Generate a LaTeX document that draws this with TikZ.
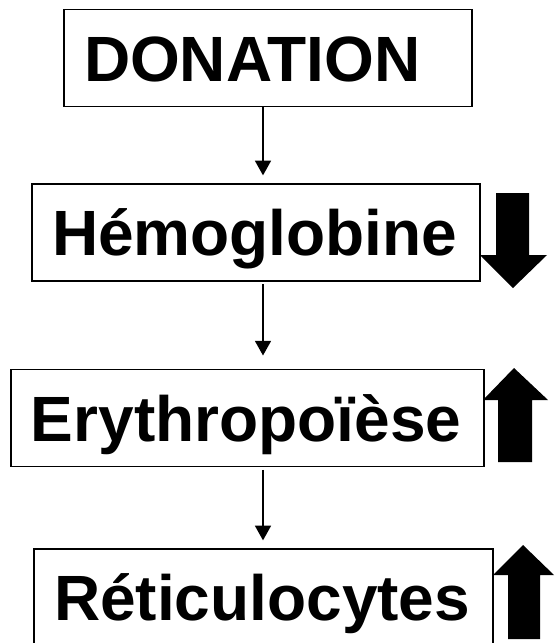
\documentclass[tikz,border=0pt]{standalone}
\usepackage{fontspec}
\setmainfont{Liberation Sans}
\usetikzlibrary{arrows.meta,positioning}

\begin{document}
\begin{tikzpicture}[x=0.75pt, y=-0.75pt, >={Triangle[width=12pt,length=11pt]}]
    \tikzset{
        box/.style={draw, line width=1pt, rectangle, align=left, inner xsep=15pt, inner ysep=0pt, text height=35pt, text depth=0pt, minimum height=72.75pt, text width=#1, font=\fontsize{48}{56}\selectfont\bfseries},
        line/.style={draw, ->, line width=1.1pt, shorten >=6pt},
        bigarrow/.style={fill=black}
    }
    \useasboundingbox (0,0) rectangle (554,643);
    % Boxes
    \node[box=276pt] (don) at (268,58) {DONATION};
    \node[box=306pt] (hem) at (256,232.5) {Hémoglobine};
    \node[box=324.75pt] (ery) at (247.5,418) {Erythropoïèse};
    \node[box=314.25pt] (ret) at (263.5,597.5) {Réticulocytes};
    \coordinate (axis) at (263,0);

    % Connections
    \path[line] (don.south -| axis) -- (hem.north -| axis);
    \path[line] ([yshift=-2pt]hem.south -| axis) -- ([yshift=4pt]ery.north -| axis);
    \path[line] ([yshift=-2pt]ery.south -| axis) -- (ret.north -| axis);

    % Big arrows
    \fill[bigarrow] (496,193) -- (529,193) -- (529,255) -- (547,255) -- (513,288) -- (480,255) -- (496,255) -- cycle;
    \fill[bigarrow] (498,462) -- (532,462) -- (532,400) -- (548,400) -- (514,368) -- (483,400) -- (498,400) -- cycle;
    \fill[bigarrow] (508,639) -- (540,639) -- (540,575) -- (554,575) -- (523,545) -- (493,575) -- (508,575) -- cycle;
\end{tikzpicture}
\end{document}
